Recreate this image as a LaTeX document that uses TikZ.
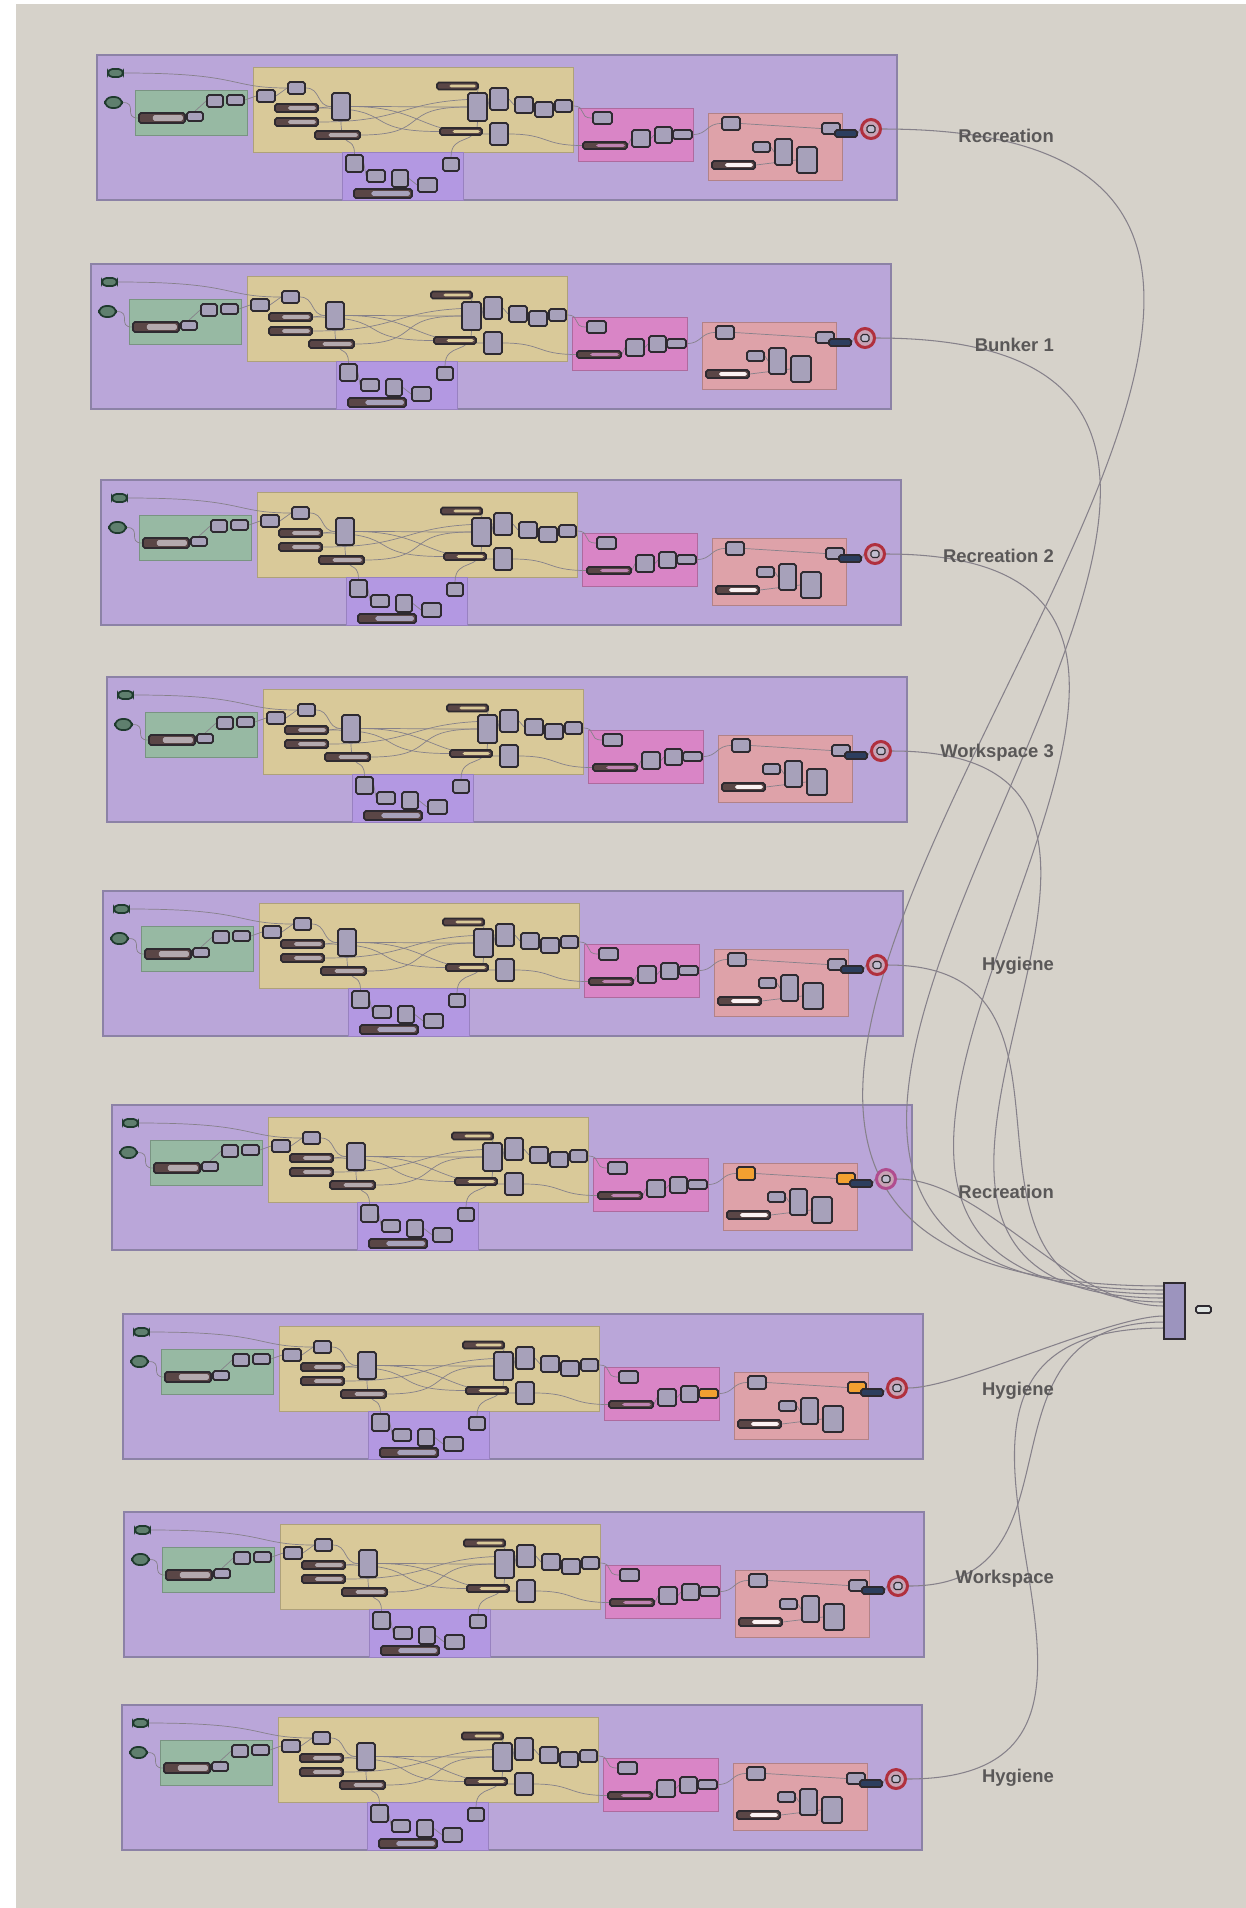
\documentclass[tikz,border=0pt]{standalone}
\usepackage{fontspec}
\setmainfont{Liberation Sans}
\usepackage{tikz}
\usetikzlibrary{calc}

\definecolor{bgbeige}{HTML}{D6D2CA}
\definecolor{grpfill}{HTML}{BAA6D9}
\definecolor{grpline}{HTML}{8C82A6}
\definecolor{greenfill}{HTML}{97B9A3}
\definecolor{tanfill}{HTML}{D9C999}
\definecolor{subfill}{HTML}{B398E2}
\definecolor{magfill}{HTML}{D985C6}
\definecolor{pinkfill}{HTML}{DEA2A9}
\definecolor{compfill}{HTML}{A7A1BA}
\definecolor{compline}{HTML}{2E2A30}
\definecolor{prmfill}{HTML}{5F7F6E}
\definecolor{prmline}{HTML}{1F3A2E}
\definecolor{sldark}{HTML}{5A4646}
\definecolor{sldlight}{HTML}{B3A9AE}
\definecolor{orng}{HTML}{F2A030}
\definecolor{ringred}{HTML}{B0303E}
\definecolor{ringmag}{HTML}{B04C8E}
\definecolor{ringin}{HTML}{C9A3B6}
\definecolor{darkblue}{HTML}{2C3E5E}
\definecolor{wiregray}{HTML}{86818A}
\definecolor{lblgray}{HTML}{5A5858}
\definecolor{mergefill}{HTML}{9C94BE}

\pgfdeclarelayer{background}
\pgfdeclarelayer{wirelayer}
\pgfsetlayers{background,wirelayer,main}

\newcommand{\pxu}{0.02cm}

\tikzset{
  grpbox/.style={fill=grpfill, draw=grpline, line width=0.8pt},
  greenbox/.style={fill=greenfill, draw=greenfill!80!black, line width=0.5pt},
  tanbox/.style={fill=tanfill, draw=tanfill!80!black, line width=0.5pt},
  subbox/.style={fill=subfill, draw=subfill!85!black, line width=0.4pt},
  magbox/.style={fill=magfill, draw=magfill!80!black, line width=0.5pt},
  pinkbox/.style={fill=pinkfill, draw=pinkfill!80!black, line width=0.5pt},
  comp/.style={draw=compline, fill=compfill, line width=1pt, rounded corners=1pt, inner sep=0pt},
  param/.style={comp, fill=prmfill, draw=prmline, rounded corners=2.5pt},
  slider/.style={comp, fill=sldark, path picture={\fill[#1] ($(path picture bounding box.south west)!0.3!(path picture bounding box.south east)+(0pt,1.2pt)$) rectangle ([shift={(-1.2pt,-1.2pt)}]path picture bounding box.north east);}},
  slider/.default=sldlight,
  outring/.style={circle, draw=#1, line width=1.7pt, fill=ringin, minimum size=19*\pxu, inner sep=0pt},
  iwire/.style={draw=wiregray, line width=0.4pt},
  owire/.style={draw=wiregray, line width=0.6pt},
  lbl/.style={anchor=east, text=lblgray, font=\fontsize{10.5}{12}\selectfont\bfseries},
  mergebox/.style={draw=compline, fill=mergefill, line width=1pt, inner sep=0pt}
}

% component: [style]{name}{cx}{cy}{w}{h}
\newcommand{\ghcmp}[6][]{\node[comp,minimum width=#5*\pxu,minimum height=#6*\pxu,#1] (#2) at (#3,#4) {};}

% one group: {x}{y}{name}{p1 colour}{p2 colour}{m4 colour}{ring colour}
\newcommand{\ghgroup}[7]{%
\begin{scope}[shift={(#1,#2)}, name prefix=#3-]
  \begin{pgfonlayer}{background}
    \draw[grpbox] (0,0) rectangle (800,145);
    \draw[greenbox] (38,35) rectangle (150,80);
    \draw[tanbox] (156,12) rectangle (476,97);
    \draw[subbox] (245,97) rectangle (366,145);
    \draw[magbox] (481,53) rectangle (596,106);
    \draw[pinkbox] (611,58) rectangle (745,125);
  \end{pgfonlayer}
  % inputs
  \ghcmp[param]{prm1}{18.5}{18}{15}{8}
  \ghcmp[param, rounded corners=4pt]{prm2}{16.5}{47.5}{17}{11}
  % green
  \ghcmp{ga}{118}{46}{16}{12}
  \ghcmp{gb}{138.5}{45}{17}{10}
  \ghcmp[slider]{gs}{65}{63}{46}{10}
  \ghcmp{gc}{98}{61.5}{16}{9}
  % tan
  \ghcmp{c1}{169}{41}{18}{12}
  \ghcmp{c2}{199.5}{33}{17}{12}
  \ghcmp[slider]{s1}{199.5}{53}{43}{8}
  \ghcmp[slider]{s2}{199.5}{67}{43}{8}
  \ghcmp{c3}{244}{51.5}{18}{27}
  \ghcmp[slider]{s3}{240.5}{80}{45}{8}
  \ghcmp[slider=tanfill]{s4}{360.5}{31}{41}{7}
  \ghcmp{c4}{380.5}{52}{19}{28}
  \ghcmp{c5}{402}{44}{18}{22}
  \ghcmp[slider=tanfill]{s5}{364}{76.5}{42}{7}
  \ghcmp{c6}{402}{79}{18}{22}
  \ghcmp{c7}{427}{50}{18}{16}
  \ghcmp{c8}{447}{54.5}{18}{15}
  \ghcmp{c9}{466.5}{51}{17}{12}
  % sub group
  \ghcmp{d1}{257.5}{108.5}{17}{17}
  \ghcmp{d2}{279}{121}{18}{12}
  \ghcmp{d3}{303}{123.5}{16}{17}
  \ghcmp{d4}{330.5}{130}{19}{14}
  \ghcmp{d5}{354}{109.5}{16}{13}
  \ghcmp[slider=compfill]{sd}{286}{138.5}{58}{9}
  % magenta
  \ghcmp{m1}{505.5}{63}{19}{12}
  \ghcmp[slider=magfill!70!gray]{ms}{508}{90.5}{44}{7}
  \ghcmp{m2}{544}{83.5}{18}{17}
  \ghcmp{m3}{566.5}{80}{17}{16}
  \ghcmp[fill=#6]{m4}{585.5}{79.5}{19}{9}
  % pink
  \ghcmp[fill=#4]{p1}{634}{68.5}{18}{13}
  \ghcmp[fill=#5]{p2}{734}{73.5}{18}{11}
  \ghcmp[fill=darkblue]{pb}{749}{78.5}{22}{7}
  \ghcmp{p3}{664.5}{92}{17}{10}
  \ghcmp{p4}{686.5}{97}{17}{26}
  \ghcmp{p5}{710}{105}{20}{26}
  \ghcmp[slider=white!85!pinkfill]{ps}{636.5}{110}{43}{8}
  % output
  \node[outring=#7] (out) at (774,74) {};
  \ghcmp[fill=compfill!70!white, line width=0.6pt]{outsq}{774}{74}{8}{7}
  \begin{pgfonlayer}{wirelayer}
    \draw[iwire] (prm1.east) .. controls +(120,0) and +(-60,0) .. (c2.west);
    \draw[iwire] (prm2.east) .. controls +(15,0) and +(-15,0) .. (gs.west);
    \draw[iwire] (gb.east) -- (c1.west);
    \draw[iwire] (ga.west) -- (gc.north);
    \draw[iwire] (c1.east) -- (c2.west);
    \draw[iwire] (c2.east) .. controls +(15,0) and +(-15,0) .. (c3.west);
    \draw[iwire] (s1.east) -- (c3.west);
    \draw[iwire] (c3.east) .. controls +(70,0) and +(-70,0) .. (c4.west);
    \draw[iwire] (c3.east) .. controls +(70,0) and +(-70,0) .. (c6.west);
    \draw[iwire] (s3.east) .. controls +(70,0) and +(-70,0) .. (c4.west);
    \draw[iwire] (s2.east) .. controls +(90,0) and +(-90,0) .. (c5.west);
    \draw[iwire] (s1.east) .. controls +(80,0) and +(-80,0) .. (s5.west);
    \draw[iwire] (s4.east) -- (c4.north);
    \draw[iwire] (c4.east) -- (c5.west);
    \draw[iwire] (c5.east) -- (c7.west);
    \draw[iwire] (c7.east) -- (c8.west);
    \draw[iwire] (c8.east) -- (c9.west);
    \draw[iwire] (c9.east) .. controls +(15,0) and +(-15,0) .. (m1.west);
    \draw[iwire] (c6.east) .. controls +(40,0) and +(-40,0) .. (ms.west);
    \draw[iwire] (ms.east) -- (m2.west);
    \draw[iwire] (m2.east) -- (m3.west);
    \draw[iwire] (m3.east) -- (m4.west);
    \draw[iwire] (m4.east) .. controls +(15,0) and +(-15,0) .. (p1.west);
    \draw[iwire] (p1.east) -- (p2.west);
    \draw[iwire] (p3.east) -- (p4.west);
    \draw[iwire] (ps.east) -- (p5.west);
    \draw[iwire] (pb.east) -- (out.west);
    \draw[iwire] (c3.south) .. controls +(0,30) and +(0,-20) .. (d1.north);
    \draw[iwire] (d5.north) .. controls +(0,-25) and +(0,25) .. (c4.south);
    \draw[iwire] (d1.east) -- (d2.west);
    \draw[iwire] (d3.east) -- (d4.west);
  \end{pgfonlayer}
\end{scope}}

\begin{document}
\begin{tikzpicture}[x=0.02cm, y=-0.02cm]
  \useasboundingbox (0,0) rectangle (1246,1908);
  \begin{pgfonlayer}{background}
    \fill[white] (0,0) rectangle (1246,1908);
    \fill[bgbeige] (16,4) rectangle (1246,1908);
  \end{pgfonlayer}

  % groups
  \ghgroup{97}{55}{g1}{compfill}{compfill}{compfill}{ringred}
  \ghgroup{91}{264}{g2}{compfill}{compfill}{compfill}{ringred}
  \ghgroup{101}{480}{g3}{compfill}{compfill}{compfill}{ringred}
  \ghgroup{107}{677}{g4}{compfill}{compfill}{compfill}{ringred}
  \ghgroup{103}{891}{g5}{compfill}{compfill}{compfill}{ringred}
  \ghgroup{112}{1105}{g6}{orng}{orng}{compfill}{ringmag}
  \ghgroup{123}{1314}{g7}{compfill}{orng}{orng}{ringred}
  \ghgroup{124}{1512}{g8}{compfill}{compfill}{compfill}{ringred}
  \ghgroup{122}{1705}{g9}{compfill}{compfill}{compfill}{ringred}

  % merge
  \node[mergebox, minimum width=21*\pxu, minimum height=56*\pxu] (merge) at (1174.5,1311) {};
  \node[comp, fill=white!80!prmfill, minimum width=15*\pxu, minimum height=7*\pxu] (mout) at (1203.5,1309.5) {};
  \foreach \i/\yy in {1/1286,2/1290,3/1294,4/1298,5/1302,6/1306,7/1316,8/1322,9/1328}
    \coordinate (mi\i) at (1164,\yy);

  % wires to merge
  \begin{pgfonlayer}{wirelayer}
    \draw[owire] (g1-out.east) .. controls +(809,0) and +(-879,0) .. (mi1);
    \draw[owire] (g2-out.east) .. controls +(666,0) and +(-723,0) .. (mi2);
    \draw[owire] (g3-out.east) .. controls +(517,0) and +(-562,0) .. (mi3);
    \draw[owire] (g4-out.east) .. controls +(382,0) and +(-415,0) .. (mi4);
    \draw[owire] (g5-out.east) .. controls +(235,0) and +(-255,0) .. (mi5);
    \draw[owire] (g6-out.east) .. controls +(88,0) and +(-96,0) .. (mi6);
    \draw[owire] (g7-out.east) .. controls +(51,0) and +(-55,0) .. (mi7);
    \draw[owire] (g8-out.east) .. controls +(186,0) and +(-201,0) .. (mi8);
    \draw[owire] (g9-out.east) .. controls +(316,0) and +(-344,0) .. (mi9);
  \end{pgfonlayer}

  % labels
  \node[lbl] (l1) at (1060,136) {Recreation};
  \node[lbl] (l2) at (1060,345) {Bunker 1};
  \node[lbl] (l3) at (1060,556) {Recreation 2};
  \node[lbl] (l4) at (1060,753) {Workspace 3};
  \node[lbl] (l5) at (1060,966) {Hygiene};
  \node[lbl] (l6) at (1060,1192) {Recreation};
  \node[lbl] (l7) at (1060,1391) {Hygiene};
  \node[lbl] (l8) at (1060,1579) {Workspace};
  \node[lbl] (l9) at (1060,1778) {Hygiene};
\end{tikzpicture}
\end{document}
